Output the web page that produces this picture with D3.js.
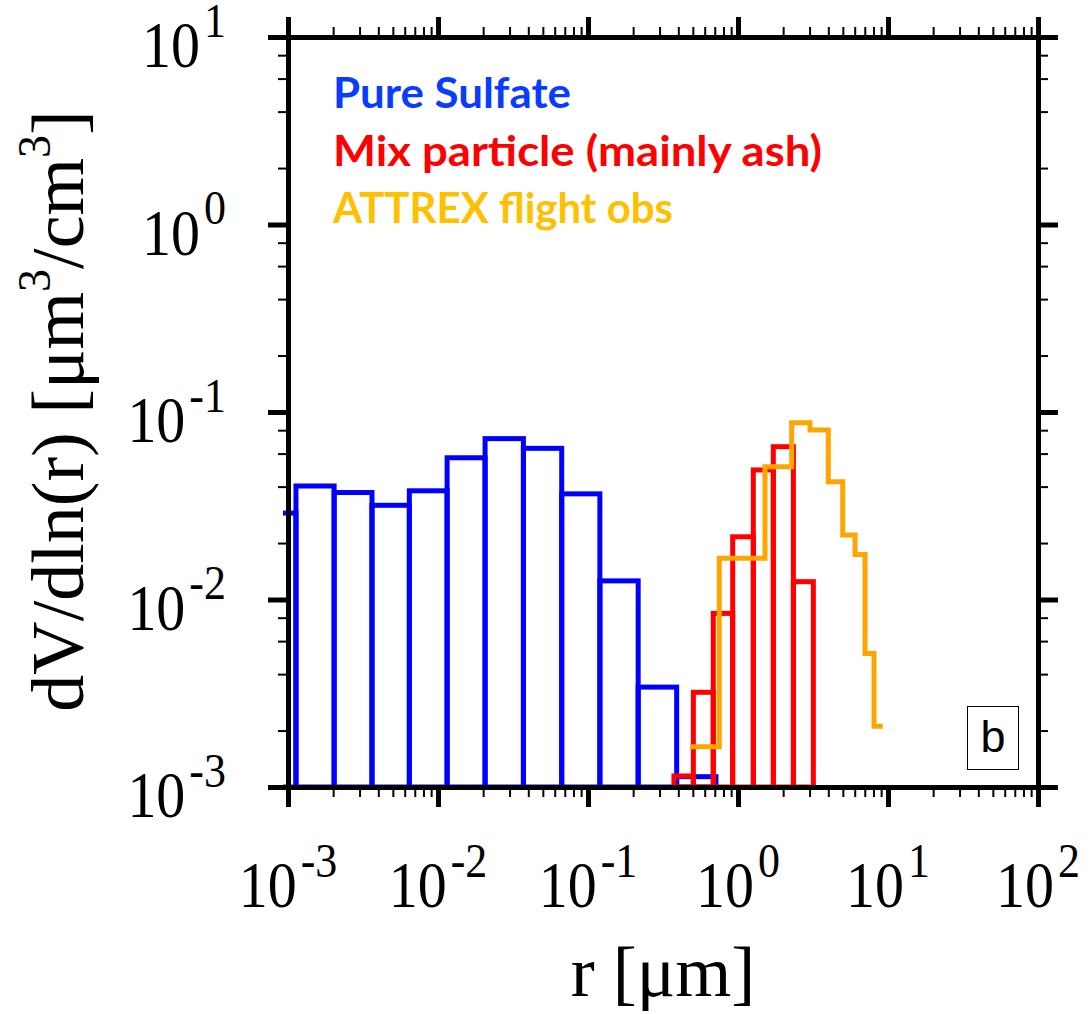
<!DOCTYPE html>
<html>
<head>
<meta charset="utf-8">
<script src="https://cdn.jsdelivr.net/npm/d3@7"></script>
<style>
	body { margin:0; background:#fff; }
	svg { display:block; }
</style>
</head>
<body>
<svg id="chart" width="1091" height="1014"></svg>
<script>

//------------------------------------------------------------------
// data
//------------------------------------------------------------------
var sulfateEdges = [0.00063, 0.00113, 0.00203, 0.00363, 0.00644, 0.0115, 0.0206, 0.0371, 0.0668, 0.120, 0.216, 0.390, 0.713];
var sulfateVals  = [0.0289, 0.0403, 0.0372, 0.0318, 0.0380, 0.0570, 0.0721, 0.0640, 0.0366, 0.01257, 0.00341, 0.001135];

var mixEdges = [0.374, 0.504, 0.684, 0.922, 1.265, 1.72, 2.34, 3.18];
var mixVals  = [0.001145, 0.0032, 0.00843, 0.0216, 0.0491, 0.0653, 0.01245];

var obsEdges = [0.479, 0.750, 1.514, 2.28, 3.02, 4.0, 4.99, 6.03, 7.03, 8.07, 9.22];
var obsVals  = [0.00164, 0.0166, 0.0511, 0.0877, 0.0802, 0.0425, 0.0221, 0.0174, 0.00516, 0.00211];

var xTickExp = [-3, -2, -1, 0, 1, 2];
var yTickExp = [-3, -2, -1, 0, 1];

var legendItems = [
	{ label:'Pure Sulfate',              color:'#0a3cff', width:238 },
	{ label:'Mix particle (mainly ash)', color:'#ff0000', width:489 },
	{ label:'ATTREX flight obs',         color:'#ffc000', width:340 },
];


//------------------------------------------------------------------
//
//------------------------------------------------------------------
var L = 288, R = 1038, T = 37, B = 787;

var svg = d3.select('#chart');

var x = d3.scaleLog().domain([1e-3, 1e2]).range([L, R]),
		y = d3.scaleLog().domain([1e-3, 1e1]).range([B, T]);

var xMajor = xTickExp.map(e=>Math.pow(10, e)),
		yMajor = yTickExp.map(e=>Math.pow(10, e)),
		xMinor = [], yMinor = [];

xTickExp.slice(0, -1).forEach(e=>{ for (var k=2; k<=9; k++) xMinor.push(k*Math.pow(10, e)) });
yTickExp.slice(0, -1).forEach(e=>{ [2,4,6,8].forEach(k=>yMinor.push(k*Math.pow(10, e))) });

svg.append('clipPath').attr('id', 'plotclip')
	.append('rect')
		.attr('x', L-5).attr('y', 0)
		.attr('width', R-L+5).attr('height', B);

var plot = svg.append('g').attr('clip-path', 'url(#plotclip)');


//------------------------------------------------------------------
// histograms
//------------------------------------------------------------------
function bins(edges, vals, color)	{

	plot.append('g')
		.selectAll('rect')
		.data(vals)
		.enter()
			.append('rect')
				.attr('x', (d,i)=>x(edges[i]))
				.attr('y', d=>y(d))
				.attr('width', (d,i)=>x(edges[i+1]) - x(edges[i]))
				.attr('height', d=>y(1e-3) - y(d))
				.attr('fill', 'none')
				.attr('stroke', color)
				.attr('stroke-width', 5);

}

bins(sulfateEdges, sulfateVals, '#0000ff');
bins(mixEdges, mixVals, '#ff0000');

var pts = [];
obsVals.forEach((v,i)=>{ pts.push([obsEdges[i], v]); pts.push([obsEdges[i+1], v]); });

plot.append('path')
	.datum(pts)
	.attr('d', d3.line().x(d=>x(d[0])).y(d=>y(d[1])))
	.attr('fill', 'none')
	.attr('stroke', '#ffa500')
	.attr('stroke-width', 5);


//------------------------------------------------------------------
// axes
//------------------------------------------------------------------
function frame(axisFn, scale, major, minor, tr)	{

	var g = svg.append('g').attr('transform', tr);

	g.append('g')
		.call(axisFn(scale).tickValues(minor).tickSize(10).tickSizeOuter(0).tickFormat(''))
		.call(sel=>{
			sel.select('.domain').remove();
			sel.selectAll('line').attr('stroke', '#000').attr('stroke-width', 2);
		});

	g.append('g')
		.call(axisFn(scale).tickValues(major).tickSize(20).tickSizeOuter(0).tickFormat(''))
		.call(sel=>{
			sel.select('.domain').attr('stroke', '#000').attr('stroke-width', 5);
			sel.selectAll('line').attr('stroke', '#000').attr('stroke-width', 5);
		});

}

frame(d3.axisBottom, x, xMajor, xMinor, 'translate(0,'+B+')');
frame(d3.axisTop,    x, xMajor, xMinor, 'translate(0,'+T+')');
frame(d3.axisLeft,   y, yMajor, yMinor, 'translate('+L+',0)');
frame(d3.axisRight,  y, yMajor, yMinor, 'translate('+R+',0)');


//------------------------------------------------------------------
// tick labels
//------------------------------------------------------------------
function powLabel(sel)	{
	sel.attr('font-family', '"Liberation Serif", "Times New Roman", serif')
		.attr('fill', '#000');
	sel.append('tspan').attr('font-size', 58).text('10');
	sel.append('tspan').attr('font-size', 44).attr('dx', 4).attr('dy', -27).text(d=>String(d));
}

svg.append('g')
	.selectAll('text')
	.data(xTickExp)
	.enter()
		.append('text')
			.attr('transform', d=>'translate('+x(Math.pow(10, d))+',907) scale(1,1.12)')
			.attr('text-anchor', 'middle')
			.call(powLabel);

svg.append('g')
	.selectAll('text')
	.data(yTickExp)
	.enter()
		.append('text')
			.attr('transform', d=>'translate(226,'+(y(Math.pow(10, d))+30)+') scale(1,1.12)')
			.attr('text-anchor', 'end')
			.call(powLabel);


//------------------------------------------------------------------
// axis titles
//------------------------------------------------------------------
svg.append('text')
	.attr('x', 663).attr('y', 996)
	.attr('text-anchor', 'middle')
	.attr('font-family', '"Liberation Serif", "Times New Roman", serif')
	.attr('font-size', 72)
	.text('r [\u03bcm]');

svg.append('text')
	.attr('transform', 'translate(83,411) rotate(-90)')
	.attr('text-anchor', 'middle')
	.attr('font-family', '"Liberation Serif", "Times New Roman", serif')
	.attr('font-size', 74)
	.call(sel=>{
		sel.append('tspan').text('dV/dln(r) [\u03bcm');
		sel.append('tspan').attr('font-size', 46).attr('dy', -33).text('3');
		sel.append('tspan').attr('dy', 33).text('/cm');
		sel.append('tspan').attr('font-size', 46).attr('dy', -33).text('3');
		sel.append('tspan').attr('dy', 33).text(']');
	});


//------------------------------------------------------------------
// legend + panel letter
//------------------------------------------------------------------
svg.append('g')
	.selectAll('text')
	.data(legendItems)
	.enter()
		.append('text')
			.attr('x', 333)
			.attr('y', (d,i)=>108 + i*57.5)
			.attr('font-family', 'Lato, "Open Sans", sans-serif')
			.attr('font-weight', 'bold')
			.attr('font-size', 42)
			.attr('textLength', d=>d.width)
			.attr('lengthAdjust', 'spacingAndGlyphs')
			.attr('fill', d=>d.color)
			.text(d=>d.label);

svg.append('rect')
	.attr('x', 967.5).attr('y', 706.5)
	.attr('width', 51).attr('height', 63)
	.attr('fill', '#fff')
	.attr('stroke', '#000')
	.attr('stroke-width', 1);

svg.append('text')
	.attr('x', 993).attr('y', 752)
	.attr('text-anchor', 'middle')
	.attr('font-family', '"Liberation Sans", Arial, sans-serif')
	.attr('font-size', 45)
	.text('b');

</script>
</body>
</html>
